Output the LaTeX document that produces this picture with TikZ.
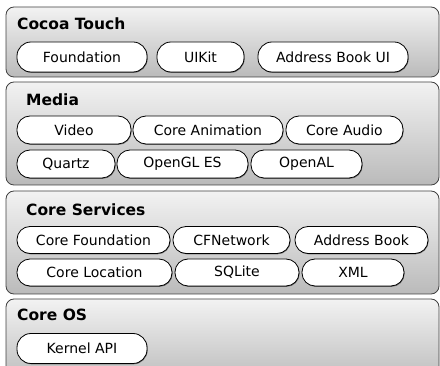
\documentclass[tikz,border=0pt]{standalone}
\usepackage{fontspec}
\setmainfont{DejaVu Sans}
\usetikzlibrary{shadows}
\begin{document}
\begin{tikzpicture}[x=1pt,y=-1pt,
  layer/.style={draw=black!75, line width=0.8pt, rounded corners=8pt, top color=black!5, bottom color=black!27},
  ttl/.style={anchor=base west, font=\fontsize{15.5}{18}\selectfont\bfseries, inner sep=0pt},
  pill/.style={draw=black, line width=0.8pt, fill=white, rounded corners=12pt, inner sep=0pt,
    font=\fontsize{14}{16}\selectfont,
    drop shadow={shadow xshift=0.6pt, shadow yshift=-0.8pt, opacity=0.45, fill=black}},
  pl/.style 2 args={pill, minimum width=#2-#1, text depth=0pt}
]
\useasboundingbox (0,0) rectangle (440,366);
\clip (0,0) rectangle (440,366);
% layers
\path[layer] (6,7) rectangle (439,77);
\path[layer] (6,82) rectangle (439,185);
\path[layer] (6,191) rectangle (439,294);
\path[layer] (6,299) rectangle (439,385);
% titles
\node[ttl] (tct) at (17,30) {Cocoa Touch};
\node[ttl] (tmd) at (26,106) {Media};
\node[ttl] (tcs) at (26,215.5) {Core Services};
\node[ttl] (tco) at (17,321) {Core OS};
% Cocoa Touch
\tikzset{rowh/.style={minimum height=30pt, rounded corners=14pt}}
\node[pill, rowh, minimum width=130pt] (found) at (82,57) {Foundation};
\node[pill, rowh, minimum width=87pt] (uikit) at (200.5,57) {UIKit};
\node[pill, rowh, minimum width=150pt] (abui) at (333,57) {Address Book UI};
% Media
\tikzset{rowm/.style={minimum height=28pt, rounded corners=13pt}}
\node[pill, rowm, minimum width=114pt] (video) at (74,130) {Video};
\node[pill, rowm, minimum width=150pt] (coreanim) at (208,130) {Core Animation};
\node[pill, rowm, minimum width=117pt] (coreaudio) at (344.5,130) {Core Audio};
\node[pill, rowm, minimum width=98pt] (quartz) at (66,164) {Quartz};
\node[pill, rowm, minimum width=131pt] (opengl) at (182.5,164) {OpenGL ES};
\node[pill, rowm, minimum width=111pt] (openal) at (306.5,164) {OpenAL};
% Core Services
\tikzset{rows/.style={minimum height=27pt, rounded corners=13pt}}
\node[pill, rows, minimum width=153pt] (corefound) at (93.5,240) {Core Foundation};
\node[pill, rows, minimum width=117pt] (cfnet) at (231.5,240) {CFNetwork};
\node[pill, rows, minimum width=133pt] (abook) at (361.5,240) {Address Book};
\node[pill, rows, minimum width=155pt] (coreloc) at (94.5,272.5) {Core Location};
\node[pill, rows, minimum width=124pt] (sqlite) at (237,272.5) {SQLite};
\node[pill, rows, minimum width=102pt] (xml) at (353,272.5) {XML};
% Core OS
\node[pill, rowh, minimum width=130pt] (kernel) at (82,348.5) {Kernel API};
\end{tikzpicture}
\end{document}
